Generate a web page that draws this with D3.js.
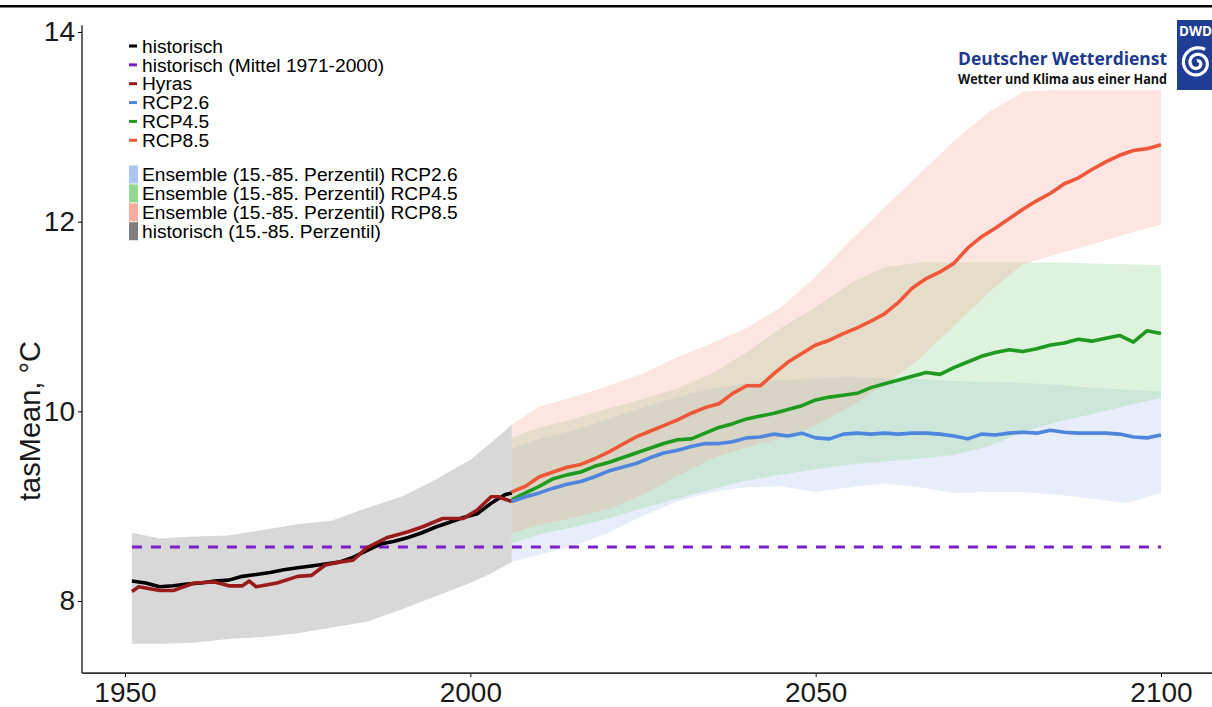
<!DOCTYPE html>
<html><head><meta charset="utf-8">
<script src="https://cdn.jsdelivr.net/npm/d3@7"></script>
<style>body{margin:0;background:#fff}svg{display:block}</style>
</head><body><svg id="chart" width="1212" height="707"></svg>
<script>
// ---------------- DATA ----------------
const yTicks = [8, 10, 12, 14];
const xTicks = [1950, 2000, 2050, 2100];
const baselineMean = 8.57;             // historisch (Mittel 1971-2000)
const baselineSpan = [1951, 2100];

const histYears = [1951,1953,1955,1957,1959,1961,1963,1965,1967,1969,1971,1973,1975,1977,1979,1981,1983,1985,1987,1989,1991,1993,1995,1997,1999,2001,2003,2005,2006];
const histMean  = [8.21,8.19,8.15,8.16,8.18,8.19,8.21,8.22,8.26,8.28,8.30,8.33,8.35,8.37,8.39,8.41,8.46,8.53,8.60,8.63,8.67,8.72,8.78,8.83,8.88,8.92,9.03,9.12,9.14];

const hyrasYears  = [1951,1952,1955,1957,1960,1963,1965,1967,1968,1969,1972,1975,1977,1979,1981,1983,1985,1988,1991,1993,1996,1999,2001,2003,2004,2006];
const hyrasValues = [8.10,8.15,8.11,8.11,8.19,8.20,8.16,8.16,8.21,8.15,8.19,8.26,8.27,8.38,8.41,8.43,8.56,8.67,8.73,8.78,8.87,8.87,8.96,9.10,9.10,9.05];

const histBandYears = [1951,1955,1960,1965,1970,1975,1980,1985,1990,1995,2000,2003,2006];
const histBandLow   = [7.55,7.55,7.56,7.60,7.62,7.66,7.72,7.78,7.91,8.05,8.19,8.29,8.41];
const histBandHigh  = [8.72,8.66,8.68,8.69,8.75,8.81,8.85,8.98,9.10,9.28,9.49,9.67,9.86];

const projYears = [2006,2008,2010,2012,2014,2016,2018,2020,2022,2024,2026,2028,2030,2032,2034,2036,2038,2040,2042,2044,2046,2048,2050,2052,2054,2056,2058,2060,2062,2064,2066,2068,2070,2072,2074,2076,2078,2080,2082,2084,2086,2088,2090,2092,2094,2096,2098,2100];
const rcp26 = [9.05,9.10,9.14,9.19,9.23,9.26,9.31,9.37,9.41,9.45,9.51,9.56,9.59,9.63,9.66,9.66,9.68,9.72,9.73,9.76,9.74,9.77,9.72,9.71,9.76,9.77,9.76,9.77,9.76,9.77,9.77,9.76,9.74,9.71,9.76,9.75,9.77,9.78,9.77,9.80,9.78,9.77,9.77,9.77,9.76,9.73,9.72,9.75];
const rcp45 = [9.07,9.14,9.21,9.29,9.33,9.36,9.42,9.46,9.51,9.56,9.61,9.66,9.70,9.71,9.77,9.83,9.87,9.92,9.95,9.98,10.02,10.06,10.12,10.15,10.17,10.19,10.25,10.29,10.33,10.37,10.41,10.39,10.46,10.52,10.58,10.62,10.65,10.63,10.66,10.70,10.72,10.76,10.74,10.77,10.80,10.73,10.85,10.82];
const rcp85 = [9.15,9.21,9.31,9.36,9.41,9.44,9.50,9.57,9.65,9.73,9.79,9.85,9.91,9.98,10.04,10.08,10.19,10.27,10.27,10.40,10.52,10.61,10.70,10.75,10.82,10.88,10.95,11.03,11.15,11.30,11.40,11.47,11.56,11.72,11.84,11.93,12.03,12.13,12.22,12.30,12.40,12.46,12.55,12.63,12.70,12.75,12.77,12.81];

const bandYears = [2006,2010,2015,2020,2025,2030,2035,2040,2045,2050,2055,2060,2065,2070,2075,2080,2085,2090,2095,2100];
const rcp26Low  = [8.41,8.49,8.58,8.72,8.90,9.05,9.15,9.20,9.21,9.15,9.20,9.24,9.20,9.14,9.15,9.15,9.12,9.08,9.03,9.14];
const rcp26High = [9.61,9.71,9.80,9.92,10.04,10.15,10.24,10.30,10.33,10.35,10.36,10.35,10.34,10.32,10.31,10.30,10.28,10.25,10.23,10.21];
const rcp45Low  = [8.61,8.70,8.78,8.87,8.98,9.08,9.18,9.27,9.33,9.39,9.44,9.47,9.50,9.54,9.63,9.78,9.89,9.97,10.06,10.14];
const rcp45High = [9.72,9.83,9.92,10.03,10.13,10.24,10.40,10.62,10.88,11.10,11.35,11.52,11.57,11.57,11.57,11.57,11.57,11.56,11.55,11.54];
const rcp85Low  = [8.72,8.80,8.88,8.97,9.12,9.32,9.50,9.62,9.72,9.85,10.05,10.28,10.55,10.90,11.25,11.55,11.66,11.76,11.87,11.97];
const rcp85High = [9.86,10.05,10.15,10.27,10.40,10.57,10.72,10.88,11.10,11.42,11.80,12.15,12.50,12.85,13.15,13.37,13.39,13.39,13.39,13.39];

const lineLegend = ["historisch","historisch (Mittel 1971-2000)","Hyras","RCP2.6","RCP4.5","RCP8.5"];
const fillLegend = ["Ensemble (15.-85. Perzentil) RCP2.6","Ensemble (15.-85. Perzentil) RCP4.5","Ensemble (15.-85. Perzentil) RCP8.5","historisch (15.-85. Perzentil)"];

// ---------------- STYLE ----------------
const col = {hist:"#000000", mean:"#7B1FC8", hyras:"#991B1B", r26:"#4E86DE", r45:"#1E9A1E", r85:"#EF573A"};
const fillCol = {r26:"#AEC7F0", r45:"#90D890", r85:"#F8AC9C", hist:"#7F7F7F"};
const bandAlpha = 0.3;

const svg = d3.select("#chart");
const x = d3.scaleLinear().domain([1950, 2100]).range([125, 1161]);
const y = d3.scaleLinear().domain([8, 14]).range([601, 32]);
const yLo = 7.24, yHi = 14.07;
const FONT = "'Liberation Sans', Arial, Helvetica, sans-serif";

const zip = (xs, ys) => xs.map((v, i) => [v, ys[i]]);
const zip3 = (xs, lo, hi) => xs.map((v, i) => [v, lo[i], hi[i]]);

// top border line
svg.append("rect").attr("x", 0).attr("y", 5).attr("width", 1212).attr("height", 2.5).attr("fill", "#000");

// bands
const area = d3.area().x(d => x(d[0])).y0(d => y(d[1])).y1(d => y(d[2]));
const bands = [
  [zip3(histBandYears, histBandLow, histBandHigh), fillCol.hist],
  [zip3(bandYears, rcp26Low, rcp26High), fillCol.r26],
  [zip3(bandYears, rcp45Low, rcp45High), fillCol.r45],
  [zip3(bandYears, rcp85Low, rcp85High), fillCol.r85]
];
svg.append("g").selectAll("path").data(bands).join("path")
  .attr("d", d => area(d[0])).attr("fill", d => d[1]).attr("fill-opacity", bandAlpha);

// baseline mean dashed
svg.append("line")
  .attr("x1", x(baselineSpan[0])).attr("x2", x(baselineSpan[1]))
  .attr("y1", y(baselineMean)).attr("y2", y(baselineMean))
  .attr("stroke", col.mean).attr("stroke-width", 3).attr("stroke-dasharray", "10,9");

// lines
const line = d3.line().x(d => x(d[0])).y(d => y(d[1]));
const lines = [
  [zip(histYears, histMean), col.hist],
  [zip(hyrasYears, hyrasValues), col.hyras],
  [zip(projYears, rcp85), col.r85],
  [zip(projYears, rcp45), col.r45],
  [zip(projYears, rcp26), col.r26]
];
svg.append("g").selectAll("path").data(lines).join("path")
  .attr("d", d => line(d[0])).attr("fill", "none").attr("stroke", d => d[1])
  .attr("stroke-width", 3.6).attr("stroke-linejoin", "round");

// axes
const yAxis = svg.append("g").attr("transform", "translate(82,0)")
  .call(d3.axisLeft(y).tickValues(yTicks).tickFormat(d3.format("d")).tickSize(4).tickPadding(3));
yAxis.select(".domain").remove();
yAxis.append("line").attr("x1", 0).attr("x2", 0).attr("y1", y(yHi)).attr("y2", y(yLo)).attr("stroke", "#000").attr("stroke-width", 1.2);
yAxis.selectAll("text").attr("font-family", FONT).attr("font-size", 28).attr("fill", "#1a1a1a");

const xAxis = svg.append("g").attr("transform", `translate(0,${y(yLo)})`)
  .call(d3.axisBottom(x).tickValues(xTicks).tickFormat(d3.format("d")).tickSize(4).tickPadding(5));
xAxis.select(".domain").remove();
xAxis.append("line").attr("x1", 82).attr("x2", 1212).attr("y1", 0).attr("y2", 0).attr("stroke", "#333").attr("stroke-width", 1.8);
xAxis.selectAll("text").attr("font-family", FONT).attr("font-size", 28).attr("fill", "#1a1a1a");

svg.append("text").attr("transform", "translate(40,421) rotate(-90)")
  .attr("text-anchor", "middle").attr("font-family", FONT).attr("font-size", 29).attr("fill", "#1a1a1a")
  .text("tasMean, °C");

// legend
const lineColors = [col.hist, col.mean, col.hyras, col.r26, col.r45, col.r85];
const lg = svg.append("g").attr("font-family", FONT).attr("font-size", 19.2).attr("fill", "#000");
lineLegend.forEach((t, i) => {
  const cy = 46 + i * 18.85;
  lg.append("line").attr("x1", 129).attr("x2", 137).attr("y1", cy).attr("y2", cy)
    .attr("stroke", lineColors[i]).attr("stroke-width", 3);
  lg.append("text").attr("x", 142).attr("y", cy).attr("dy", "0.35em").text(t);
});
const fillColors = [fillCol.r26, fillCol.r45, fillCol.r85, fillCol.hist];
fillLegend.forEach((t, i) => {
  const cy = 174.5 + i * 18.9;
  lg.append("rect").attr("x", 129).attr("y", cy - 9).attr("width", 9).attr("height", 18).attr("fill", fillColors[i]);
  lg.append("text").attr("x", 142).attr("y", cy).attr("dy", "0.35em").text(t);
});

// DWD logo
const logo = svg.append("g");
logo.append("text").attr("x", 958).attr("y", 65).attr("font-family", "'Open Sans', 'Noto Sans', sans-serif")
  .attr("font-weight", "bold").attr("font-size", 18).attr("fill", "#1D3A8A")
  .attr("textLength", 209).attr("lengthAdjust", "spacingAndGlyphs").text("Deutscher Wetterdienst");
logo.append("text").attr("x", 958).attr("y", 84).attr("font-family", "'Open Sans', 'Noto Sans', sans-serif")
  .attr("font-weight", "bold").attr("font-size", 13.5).attr("fill", "#111")
  .attr("textLength", 209).attr("lengthAdjust", "spacingAndGlyphs").text("Wetter und Klima aus einer Hand");
logo.append("rect").attr("x", 1177).attr("y", 20).attr("width", 45).attr("height", 70).attr("fill", "#1F3D94");
logo.append("text").attr("x", 1179).attr("y", 36).attr("font-family", "'Open Sans', 'Noto Sans', sans-serif")
  .attr("font-weight", "bold").attr("font-size", 14).attr("fill", "#fff")
  .attr("textLength", 33).attr("lengthAdjust", "spacingAndGlyphs").text("DWD");
const spiralPts = d3.range(0, 4.2 * Math.PI, 0.1).map(a => [a, 2 + a * 1.05]);
logo.append("path").attr("transform", "translate(1197,63)")
  .attr("d", d3.lineRadial().angle(d => d[0]).radius(d => d[1])(spiralPts))
  .attr("fill", "none").attr("stroke", "#fff").attr("stroke-width", 3.2);
</script>
</body></html>
